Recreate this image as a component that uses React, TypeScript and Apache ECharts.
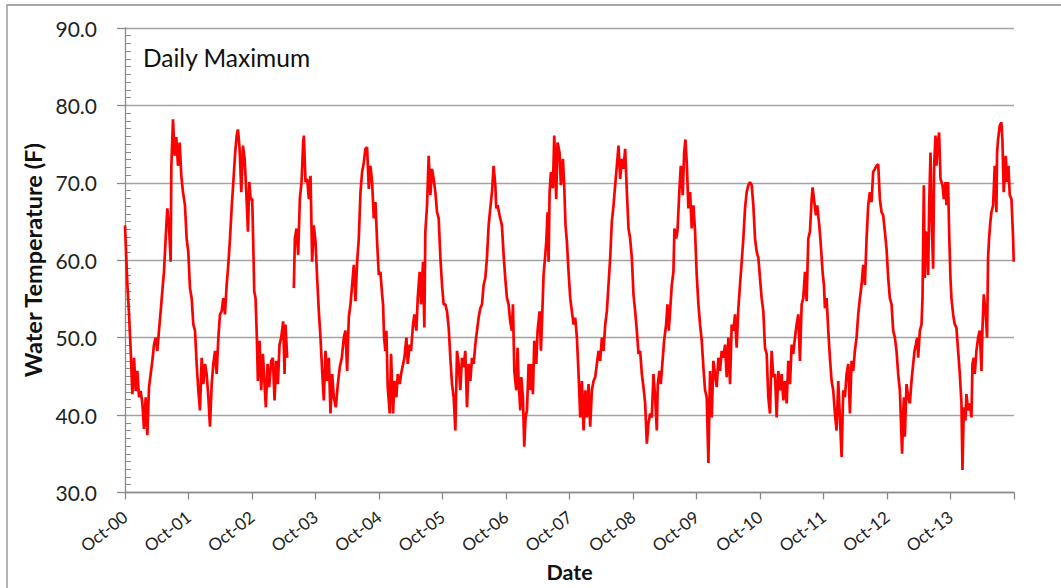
import React, { useEffect, useRef } from "react";
import * as echarts from "echarts";

// Daily maximum water temperature (F); each water year: [months after Oct 1, value]
const wy2001: [number, number | null][] = [[0.0,64.5],[0.45,56.8],[0.76,53.0],[1.08,48.3],[1.39,42.7],[1.71,47.4],[2.02,43.1],[2.33,45.7],[2.65,42.3],[2.96,43.1],[3.28,41.5],[3.59,38.2],[3.91,42.3],[4.22,37.4],[4.54,43.6],[4.85,45.3],[5.17,47.0],[5.48,49.1],[5.80,50.0],[6.11,48.3],[6.42,50.9],[6.74,53.4],[7.05,56.0],[7.37,58.5],[7.68,62.8],[8.00,66.7],[8.31,64.5],[8.63,59.8],[8.76,72.2],[9.07,78.2],[9.38,73.5],[9.70,75.9],[10.01,72.2],[10.33,75.2],[10.64,70.9],[10.96,68.8],[11.33,67.1],[11.65,62.8],[11.96,61.1]];
const wy2002: [number, number | null][] = [[0.28,56.4],[0.60,55.1],[0.91,51.7],[1.23,50.9],[1.54,46.6],[1.86,43.2],[2.17,40.6],[2.49,47.4],[2.80,44.0],[3.12,46.6],[3.43,45.3],[3.75,42.3],[4.06,38.5],[4.38,44.0],[4.69,46.6],[5.01,48.3],[5.32,45.3],[5.64,50.0],[5.95,53.0],[6.26,53.4],[6.58,55.1],[6.89,53.0],[7.21,56.8],[7.52,59.4],[7.84,62.8],[8.15,66.7],[8.47,70.1],[8.78,73.5],[9.10,76.1],[9.35,76.9],[9.66,74.4],[9.98,68.8],[10.29,74.8],[10.61,73.1],[10.92,68.8],[11.24,63.7],[11.49,70.1],[11.74,67.9]];
const wy2003: [number, number | null][] = [[0.04,67.9],[0.23,62.4],[0.42,56.0],[0.67,55.1],[0.92,50.0],[1.11,44.4],[1.43,49.6],[1.74,43.2],[2.06,47.9],[2.37,44.0],[2.62,41.0],[2.94,46.6],[3.25,43.6],[3.63,47.0],[3.94,47.4],[4.26,41.9],[4.57,47.0],[4.89,44.0],[5.20,49.1],[5.52,50.0],[5.89,52.1],[6.15,45.3],[6.33,51.7],[6.65,47.4],[7.3,null],[7.91,56.4],[8.10,62.8],[8.41,64.1],[8.73,60.7],[9.04,67.9],[9.36,70.1],[9.67,75.2],[9.80,76.1],[10.11,70.1],[10.43,70.5],[10.74,67.9],[11.06,70.9],[11.37,59.8],[11.68,64.5]];
const wy2004: [number, number | null][] = [[0.0,62.4],[0.31,57.7],[0.63,53.4],[0.94,50.0],[1.26,45.7],[1.57,41.9],[1.89,48.3],[2.20,44.4],[2.52,47.4],[2.83,40.2],[3.15,45.3],[3.46,42.3],[3.84,41.0],[4.22,44.0],[4.59,46.2],[4.97,47.4],[5.35,50.0],[5.66,50.9],[5.98,45.7],[6.29,52.6],[6.61,54.3],[6.92,56.8],[7.24,59.4],[7.55,54.7],[7.87,59.8],[8.18,62.8],[8.50,68.8],[8.81,71.4],[9.12,72.6],[9.44,74.4],[9.75,74.6],[10.07,69.2],[10.38,72.2],[10.70,70.1],[11.01,65.4],[11.33,67.5],[11.64,62.4],[11.96,58.1]];
const wy2005: [number, number | null][] = [[0.27,58.5],[0.6,55.5],[0.77,54.3],[0.96,50.0],[1.21,48.3],[1.40,50.9],[1.65,43.6],[2.03,40.2],[2.28,47.9],[2.66,40.2],[2.91,44.4],[3.29,42.3],[3.54,45.3],[3.92,44.0],[4.17,45.3],[4.55,46.6],[4.80,47.4],[5.18,50.0],[5.43,46.6],[5.81,49.1],[6.06,48.3],[6.43,51.7],[6.69,53.0],[7.06,50.9],[7.32,55.1],[7.69,58.5],[7.94,54.3],[8.32,59.8],[8.57,51.3],[8.76,63.7],[9.08,67.1],[9.39,73.5],[9.71,68.4],[10.02,71.8],[10.33,70.5],[10.65,68.8],[10.97,66.2],[11.28,65.4],[11.60,60.3],[11.91,56.8]];
const wy2006: [number, number | null][] = [[0.22,54.3],[0.54,54.3],[0.85,53.4],[1.17,51.3],[1.48,47.4],[1.80,44.0],[2.11,42.3],[2.43,38.0],[2.74,48.3],[3.05,46.6],[3.37,43.2],[3.68,47.4],[4.00,46.2],[4.31,48.3],[4.63,41.0],[4.94,46.6],[5.26,44.4],[5.57,47.4],[5.89,46.6],[6.20,49.1],[6.52,50.9],[6.83,52.6],[7.15,53.8],[7.46,54.3],[7.77,56.8],[8.09,57.7],[8.40,60.3],[8.72,64.5],[9.03,66.7],[9.35,68.8],[9.66,72.2],[9.98,69.7],[10.16,66.7],[10.42,67.1],[10.79,65.8],[11.23,64.5],[11.55,60.7],[11.86,57.7]];
const wy2007: [number, number | null][] = [[0.18,55.1],[0.49,54.3],[0.81,52.0],[1.12,50.9],[1.31,54.3],[1.57,45.7],[1.94,43.2],[2.19,48.7],[2.38,44.4],[2.70,40.6],[2.89,44.9],[3.20,42.3],[3.45,35.9],[3.70,39.7],[3.96,40.6],[4.27,46.6],[4.59,43.2],[4.77,46.6],[5.09,42.7],[5.34,49.6],[5.72,46.6],[5.97,50.9],[6.35,53.4],[6.60,48.3],[6.85,53.0],[7.10,58.1],[7.42,60.7],[7.61,62.4],[7.86,66.2],[8.05,59.8],[8.24,68.8],[8.49,71.4],[8.86,69.3],[9.12,76.1],[9.49,67.9],[9.74,75.2],[10.12,73.9],[10.37,69.7],[10.75,73.1],[11.00,69.7],[11.25,64.5],[11.51,62.4],[11.82,58.5]];
const wy2008: [number, number | null][] = [[0.14,55.1],[0.45,53.4],[0.77,51.7],[1.08,52.6],[1.40,50.0],[1.71,45.3],[2.03,39.7],[2.34,44.4],[2.66,38.0],[2.97,43.2],[3.28,39.7],[3.60,44.0],[3.91,38.5],[4.23,43.2],[4.54,44.4],[4.86,44.9],[5.17,46.6],[5.49,48.3],[5.80,47.0],[6.12,50.0],[6.43,48.3],[6.75,51.7],[7.06,53.4],[7.37,56.8],[7.69,60.3],[8.00,65.0],[8.32,67.1],[8.63,69.7],[8.95,72.2],[9.26,74.8],[9.58,70.5],[9.89,73.1],[10.21,71.8],[10.52,74.4],[10.84,68.8],[11.15,64.1],[11.46,62.8],[11.78,60.3]];
const wy2009: [number, number | null][] = [[0.09,55.6],[0.41,53.4],[0.72,50.9],[1.04,47.9],[1.35,48.3],[1.67,45.3],[1.98,43.6],[2.30,41.5],[2.61,36.3],[2.92,38.9],[3.24,40.2],[3.55,39.7],[3.87,45.3],[4.18,42.3],[4.50,38.0],[4.68,44.0],[5.00,45.7],[5.25,44.0],[5.63,47.4],[5.88,49.6],[6.26,51.7],[6.51,54.3],[6.76,50.9],[7.01,53.4],[7.33,56.8],[7.64,58.5],[7.83,64.1],[8.15,62.8],[8.40,63.7],[8.78,69.2],[9.03,72.2],[9.40,68.4],[9.66,73.9],[9.91,75.6],[10.16,72.6],[10.47,66.7],[10.79,68.8],[11.10,64.1],[11.42,67.1],[11.73,63.7]];
const wy2010: [number, number | null][] = [[0.04,58.1],[0.36,54.3],[0.67,51.7],[0.99,49.6],[1.30,46.2],[1.62,43.2],[1.93,42.3],[2.25,33.8],[2.56,45.7],[2.88,39.7],[3.19,47.0],[3.50,45.3],[3.82,43.6],[4.13,47.4],[4.45,45.7],[4.76,48.3],[5.08,47.4],[5.39,49.1],[5.71,44.9],[6.02,50.0],[6.34,44.0],[6.65,51.7],[6.97,50.9],[7.28,53.0],[7.59,48.7],[7.91,53.8],[8.22,56.8],[8.54,59.8],[8.85,62.8],[9.17,66.7],[9.48,68.8],[9.80,69.7],[10.11,70.1],[10.43,69.7],[10.74,67.1],[11.06,62.8],[11.37,61.1],[11.69,60.3]];
const wy2011: [number, number | null][] = [[0.31,55.1],[0.63,53.4],[0.94,48.7],[1.26,47.9],[1.57,42.3],[1.89,40.2],[2.20,48.3],[2.52,44.9],[2.83,45.3],[3.15,39.7],[3.46,45.7],[3.78,43.2],[4.09,45.3],[4.41,41.9],[4.72,44.4],[5.04,41.5],[5.35,47.0],[5.67,44.0],[5.98,49.1],[6.29,47.9],[6.61,50.0],[6.92,51.7],[7.24,53.0],[7.55,47.0],[7.87,54.3],[8.18,55.1],[8.50,58.5],[8.81,54.7],[9.13,62.8],[9.44,63.7],[9.76,67.9],[9.94,69.4],[10.20,67.9],[10.57,65.8],[10.82,67.1],[11.20,64.5],[11.45,62.4],[11.83,58.5]];
const wy2012: [number, number | null][] = [[0.08,56.8],[0.27,53.8],[0.59,55.1],[0.90,50.9],[1.21,47.4],[1.53,44.4],[1.84,43.2],[2.16,40.2],[2.47,38.0],[2.79,44.4],[3.10,39.7],[3.42,34.6],[3.73,43.2],[4.05,42.3],[4.36,45.3],[4.68,46.6],[4.99,40.2],[5.30,47.0],[5.62,45.7],[5.93,48.3],[6.25,50.0],[6.56,53.0],[6.88,55.1],[7.19,56.8],[7.51,59.4],[7.82,56.8],[8.14,62.8],[8.45,67.1],[8.77,68.8],[9.08,67.5],[9.39,71.4],[9.71,71.8],[10.02,72.2],[10.34,72.4],[10.65,67.9],[10.97,66.2],[11.28,65.8],[11.60,63.7],[11.91,61.5]];
const wy2013: [number, number | null][] = [[0.23,57.7],[0.54,55.1],[0.86,54.3],[1.17,50.9],[1.49,50.0],[1.80,48.3],[2.11,45.3],[2.43,43.2],[2.85,35.0],[3.06,40.2],[3.19,42.3],[3.37,37.2],[3.69,44.0],[4.00,42.3],[4.32,41.5],[4.63,44.4],[4.95,46.6],[5.20,48.3],[5.45,49.1],[5.70,50.0],[5.89,47.4],[6.21,50.9],[6.52,51.7],[6.71,55.1],[6.96,69.7],[7.15,57.7],[7.34,63.7],[7.59,62.8],[7.78,58.1],[7.97,67.1],[8.22,73.9],[8.41,65.8],[8.72,58.9],[8.91,72.2],[9.16,76.1],[9.35,72.2],[9.54,74.8],[9.85,76.5],[10.11,70.5],[10.48,69.7],[10.74,67.9],[11.05,70.1],[11.24,67.1],[11.55,70.1],[11.74,63.7],[11.99,57.7]];
const wy2014: [number, number | null][] = [[0.18,55.1],[0.50,53.0],[0.81,51.7],[1.12,51.3],[1.44,48.3],[1.76,45.3],[2.07,41.5],[2.26,32.9],[2.51,41.0],[2.83,39.3],[3.01,42.7],[3.33,40.6],[3.64,41.5],[3.96,39.7],[4.15,46.6],[4.40,47.4],[4.59,45.3],[4.90,48.3],[5.22,50.0],[5.53,50.9],[5.85,45.7],[6.03,50.9],[6.29,55.6],[6.66,53.0],[6.91,50.0],[7.10,60.3],[7.29,62.8],[7.54,65.0],[7.73,66.2],[8.05,67.1],[8.36,72.2],[8.68,66.2],[8.80,73.9],[8.99,75.6],[9.31,77.4],[9.62,77.8],[9.81,75.6],[10.06,68.8],[10.44,73.5],[10.69,70.1],[10.95,72.2],[11.20,68.4],[11.52,67.9],[11.83,62.8],[11.95,59.8]];

const waterYears = [wy2001, wy2002, wy2003, wy2004, wy2005, wy2006, wy2007, wy2008, wy2009, wy2010, wy2011, wy2012, wy2013, wy2014];
const xTickLabels = ["Oct-00","Oct-01","Oct-02","Oct-03","Oct-04","Oct-05","Oct-06","Oct-07","Oct-08","Oct-09","Oct-10","Oct-11","Oct-12","Oct-13"];

const FONT = "Lato, 'Open Sans', sans-serif";

export default function App() {
  const ref = useRef<HTMLDivElement>(null);
  useEffect(() => {
    if (!ref.current) return;
    const chart = echarts.init(ref.current, undefined, { renderer: "svg" });
    const data: (number | null)[][] = [];
    waterYears.forEach((arr, i) => {
      arr.forEach(([m, v]) => data.push([i * 12 + m, v]));
    });
    chart.setOption({
      animation: false,
      backgroundColor: "#ffffff",
      textStyle: { fontFamily: FONT },
      title: {
        text: "Daily Maximum",
        left: 143,
        top: 45,
        padding: 0,
        textStyle: { fontFamily: FONT, fontSize: 24.5, fontWeight: "normal", color: "#111" },
      },
      graphic: [
        {
          type: "rect",
          shape: { x: 7, y: 5, width: 1200, height: 800 },
          style: { fill: "none", stroke: "#8c8c8c", lineWidth: 1.3 },
          silent: true,
        },
      ],
      grid: { left: 125, right: 47, top: 28, bottom: 92, containLabel: false },
      xAxis: {
        type: "value",
        min: 0,
        max: 168,
        interval: 12,
        name: "Date",
        nameLocation: "middle",
        nameGap: 64,
        nameTextStyle: { fontFamily: FONT, fontSize: 21.5, fontWeight: "bold", color: "#111" },
        axisLine: { show: true, onZero: false, lineStyle: { color: "#8a8a8a", width: 1.3 } },
        axisTick: { show: true, length: 7, lineStyle: { color: "#8a8a8a", width: 1.3 } },
        splitLine: { show: false },
        axisLabel: {
          rotate: 38,
          margin: 22,
          fontFamily: FONT,
          fontSize: 17,
          color: "#222",
          formatter: (v: number) => {
            const i = Math.round(v / 12);
            return i < xTickLabels.length ? xTickLabels[i] : "";
          },
        },
      },
      yAxis: {
        type: "value",
        min: 30,
        max: 90,
        interval: 10,
        name: "Water Temperature (F)",
        nameLocation: "middle",
        nameGap: 78,
        nameTextStyle: { fontFamily: FONT, fontSize: 23.5, fontWeight: "bold", color: "#111" },
        axisLine: { show: true, lineStyle: { color: "#8a8a8a", width: 1.3 } },
        axisTick: { show: true, length: 8, lineStyle: { color: "#8a8a8a", width: 1.3 } },
        minorTick: { show: true, splitNumber: 10, length: -6, lineStyle: { color: "#8a8a8a", width: 1 } },
        splitLine: { show: true, lineStyle: { color: "#a3a3a3", width: 1.4 } },
        axisLabel: {
          margin: 28,
          fontFamily: FONT,
          fontSize: 21,
          color: "#222",
          formatter: (v: number) => v.toFixed(1),
        },
      },
      series: [
        {
          type: "line",
          data,
          showSymbol: false,
          symbol: "none",
          connectNulls: false,
          lineStyle: { color: "#ff0000", width: 2.7 },
          itemStyle: { color: "#ff0000" },
        },
      ],
    });
    return () => chart.dispose();
  }, []);
  return (
    <div
      ref={ref}
      style={{ position: "absolute", left: 0, top: 0, width: 1061, height: 588, background: "#fff" }}
    />
  );
}
